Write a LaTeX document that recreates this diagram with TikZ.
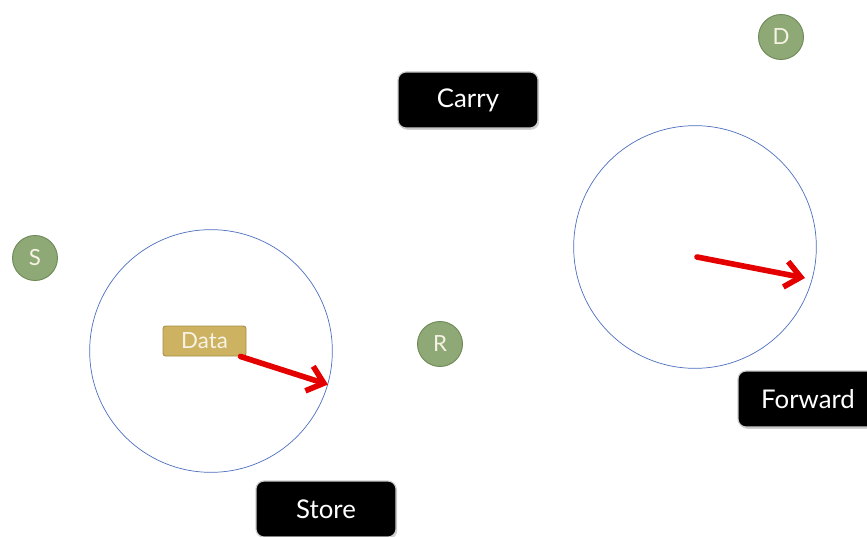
\documentclass[tikz,border=0pt]{standalone}
\usepackage{fontspec}
\setmainfont{Lato}
\usepackage{xcolor}
\usetikzlibrary{arrows.meta,shadows}

\definecolor{nodegreen}{HTML}{8FA976}
\definecolor{nodeedge}{HTML}{6E8A58}
\definecolor{datatan}{HTML}{CDB262}
\definecolor{dataedge}{HTML}{A68F45}
\definecolor{rangeblue}{HTML}{4D6FBF}
\definecolor{cream}{HTML}{F6F3E4}

\tikzset{
  hostnode/.style={circle, fill=nodegreen, draw=nodeedge, line width=0.8pt, minimum size=1.35cm, inner sep=0pt, text=cream, font=\fontsize{19}{19}\selectfont},
  radiorange/.style={circle, draw=rangeblue, line width=0.6pt, minimum size=7.28cm, inner sep=0pt},
  labelbox/.style={rectangle, rounded corners=0.24cm, fill=black, draw=gray!40, line width=1pt, text=white, font=\fontsize{22}{22}\selectfont, minimum width=4.2cm, minimum height=1.68cm, drop shadow={opacity=0.35, shadow xshift=1pt, shadow yshift=-1.5pt}},
  packetbox/.style={rectangle, rounded corners=0.08cm, fill=datatan, draw=dataedge, line width=0.8pt, text=cream, font=\fontsize{19}{19}\selectfont, minimum width=2.49cm, minimum height=0.9cm, inner sep=0pt},
  movearrow/.style={-{Straight Barb[length=13pt, width=22pt, line width=4.8pt]}, line width=4.8pt, red!90!black, line cap=round}
}

\begin{document}
\begin{tikzpicture}[x=0.03cm, y=-0.03cm]
  \useasboundingbox (0,0) rectangle (867,537);
  \clip (0,0) rectangle (867,537);

  % Radio ranges
  \node[radiorange] (leftRange) at (211,351) {};
  \node[radiorange] (rightRange) at (695,247) {};

  % Hosts
  \node[hostnode] (S) at (35,258) {S};
  \node[hostnode] (R) at (440,344) {R};
  \node[hostnode] (D) at (781,37) {D};

  % Data packet
  \node[packetbox] (data) at (204.5,341) {Data};

  % Labels
  \node[labelbox] (carry) at (468,100) {Carry};
  \node[labelbox] (store) at (326,509) {Store};
  \node[labelbox] (forward) at (808,399) {Forward};

  % Movement
  \coordinate (leftEnd) at (leftRange.-16);
  \coordinate (rightStart) at (697,257);
  \coordinate (rightEnd) at (805,278);
  \draw[movearrow] (data.south east) ++(-6,0) -- (leftEnd);
  \draw[movearrow] (rightStart) -- (rightEnd);
\end{tikzpicture}
\end{document}
